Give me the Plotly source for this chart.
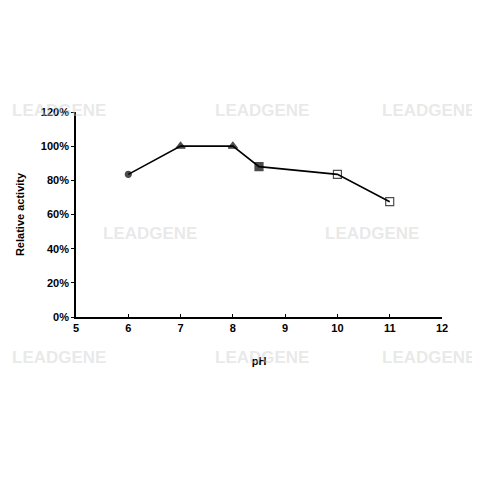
import plotly.graph_objects as go

# %% data
ph = [6, 7, 8, 8.5, 10, 11]
activity = [0.835, 1.0, 1.0, 0.88, 0.835, 0.675]
y_ticks = [0, 0.2, 0.4, 0.6, 0.8, 1.0, 1.2]
x_ticks = [5, 6, 7, 8, 9, 10, 11, 12]

# marker style per point (buffer groups)
symbols = ['circle', 'triangle-up', 'triangle-up', 'square', 'square-open', 'square-open']
sizes = [6, 8, 8, 8, 8, 8]

font_name = 'Liberation Sans, Arial, sans-serif'

fig = go.Figure()
fig.add_trace(go.Scatter(
    x=ph, y=activity,
    mode='lines+markers',
    line=dict(color='black', width=1.6),
    marker=dict(symbol=symbols, size=sizes, color='black',
                line=dict(color='black', width=1.2)),
    showlegend=False,
))

# faint watermark (LEADGENE logo text), page pixel spots -> paper coords
# edge copies are anchored inward so they stay inside the picture
wm_spots = [(10, 110, 'left'), (262, 110, 'center'), (478, 110, 'right'),
            (150, 233, 'center'), (372, 233, 'center'),
            (10, 357, 'left'), (262, 357, 'center'), (478, 357, 'right')]
for (px, py, anchor) in wm_spots:
    fig.add_annotation(
        x=(px - 76) / (442 - 76), y=(317 - py) / (317 - 112),
        xref='paper', yref='paper',
        text='LEADGENE', showarrow=False,
        font=dict(family=font_name, size=17, color='rgba(205,205,205,0.45)'),
        xanchor=anchor, yanchor='middle',
    )

fig.update_layout(
    width=480, height=480,
    margin=dict(l=68, r=46, t=104, b=171, autoexpand=False),
    paper_bgcolor='white', plot_bgcolor='white',
    font=dict(family=font_name, size=11, color='black', weight='bold'),
)
fig.update_xaxes(
    range=[5, 12], tickvals=x_ticks, ticktext=[str(v) for v in x_ticks],
    showline=True, linecolor='black', linewidth=1.6,
    ticks='inside', ticklen=3, tickwidth=1.2, tickcolor='black',
    showgrid=False, zeroline=False,
    title=dict(text='pH', font=dict(size=11, weight='bold'), standoff=24),
)
fig.update_yaxes(
    range=[0, 1.2], tickvals=y_ticks,
    ticktext=['%d%%' % round(v * 100) for v in y_ticks],
    showline=True, linecolor='black', linewidth=1.6,
    ticks='outside', ticklen=3, tickwidth=1.2, tickcolor='black',
    showgrid=False, zeroline=False,
    title=dict(text='Relative activity', font=dict(size=11, weight='bold'), standoff=14),
)

fig.write_html("out.html")
